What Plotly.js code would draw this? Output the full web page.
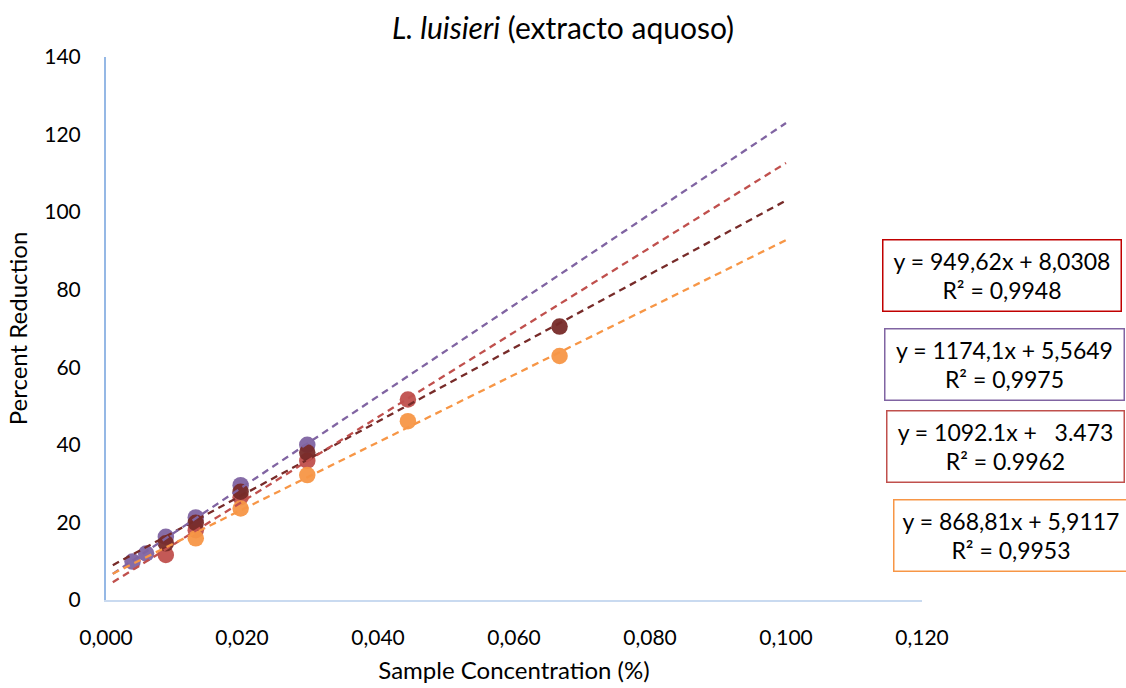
<!DOCTYPE html>
<html>
<head>
<meta charset="utf-8">
<script src="https://cdn.plot.ly/plotly-3.0.1.min.js"></script>
<style>html,body{margin:0;padding:0;background:#fff;}#chart{width:1126px;height:688px;}</style>
</head>
<body>
<div id="chart"></div>
<script>
// Data
const xPurple = [0.0039, 0.0059, 0.0088, 0.0132, 0.0198, 0.0296];
const yPurple = [9.9, 12.0, 16.3, 21.3, 29.6, 40.0];
const xRed = [0.0088, 0.0132, 0.0198, 0.0296, 0.0444];
const yRed = [11.6, 18.0, 26.5, 35.9, 51.7];
const xOrange = [0.0132, 0.0198, 0.0296, 0.0444, 0.0667];
const yOrange = [15.9, 23.6, 32.2, 46.1, 62.9];
const xDark = [0.0088, 0.0132, 0.0198, 0.0296, 0.0667];
const yDark = [14.6, 19.9, 27.9, 38.0, 70.5];

// Trendline equations shown on the chart (dark, purple, red, orange)
const seriesNames = ['dark', 'purple', 'red', 'orange'];
const slopes = [949.62, 1174.1, 1092.1, 868.81];
const intercepts = [8.0308, 5.5649, 3.473, 5.9117];
const trendX = [0.001, 0.1];
const eqLabels = [
  'y = 949,62x + 8,0308<br>R² = 0,9948',
  'y = 1174,1x + 5,5649<br>R² = 0,9975',
  'y = 1092.1x +\u00a0\u00a0 3.473<br>R² = 0.9962',
  'y = 868,81x + 5,9117<br>R² = 0,9953'
];

const colors = {dark: '#772B29', purple: '#8064A2', red: '#C0504D', orange: '#F79646'};
const boxColors = ['#C00000', '#8064A2', '#C0504D', '#F79646'];

const font = 'Lato, "Open Sans", sans-serif';

function pts(x, y, c) {
  return {x: x, y: y, type: 'scatter', mode: 'markers', showlegend: false, hoverinfo: 'x+y',
    marker: {size: 16.5, color: c, opacity: 0.95, line: {width: 0}}};
}
const traces = [
  pts(xRed, yRed, colors.red),
  pts(xOrange, yOrange, colors.orange),
  pts(xPurple, yPurple, colors.purple),
  pts(xDark, yDark, colors.dark)
];
seriesNames.forEach((n, i) => {
  traces.push({x: trendX, y: trendX.map(v => slopes[i] * v + intercepts[i]), type: 'scatter', mode: 'lines',
    showlegend: false, hoverinfo: 'skip', line: {color: colors[n], width: 2.3, dash: '7px,5px'}});
});

const boxPos = [
  {x: 1.0983, y: 0.5967, w: 237},
  {x: 1.1017, y: 0.4346, w: 238},
  {x: 1.1027, y: 0.2823, w: 236},
  {x: 1.1087, y: 0.1197, w: 233}
];
const annotations = eqLabels.map((t, i) => ({
  text: t, xref: 'paper', yref: 'paper', x: boxPos[i].x, y: boxPos[i].y,
  xanchor: 'center', yanchor: 'middle', showarrow: false,
  width: boxPos[i].w, height: 70, borderpad: 0, borderwidth: 1.5,
  bordercolor: boxColors[i], bgcolor: '#ffffff',
  font: {family: font, size: 23, color: '#000'}
}));

const layout = {
  width: 1126, height: 688,
  margin: {l: 106, r: 204, t: 57, b: 88},
  paper_bgcolor: '#fff', plot_bgcolor: '#fff',
  separators: ',.',
  showlegend: false,
  title: {text: '<i>L. luisieri</i> (extracto aquoso)', x: 0.5, xanchor: 'center', y: 0.959, yanchor: 'middle',
    font: {family: font, size: 30, color: '#000'}},
  xaxis: {
    range: [0, 0.12], dtick: 0.02, tick0: 0, tickformat: '.3f',
    showgrid: false, zeroline: false, showline: true, linecolor: '#C9DAF0', linewidth: 2,
    ticks: '', ticklabelstandoff: 18,
    tickfont: {family: font, size: 21, color: '#000'},
    title: {text: 'Sample Concentration (%)', standoff: 14, font: {family: font, size: 24, color: '#000'}},
    automargin: false
  },
  yaxis: {
    range: [0, 140], dtick: 20, tick0: 0,
    showgrid: false, zeroline: false, showline: true, linecolor: '#95B8E5', linewidth: 2,
    ticks: '', ticklabelstandoff: 19,
    tickfont: {family: font, size: 21, color: '#000'},
    title: {text: 'Percent Reduction', standoff: 10, font: {family: font, size: 24, color: '#000'}},
    automargin: false
  },
  annotations: annotations
};

Plotly.newPlot('chart', traces, layout, {displayModeBar: false, staticPlot: true});
</script>
</body>
</html>
